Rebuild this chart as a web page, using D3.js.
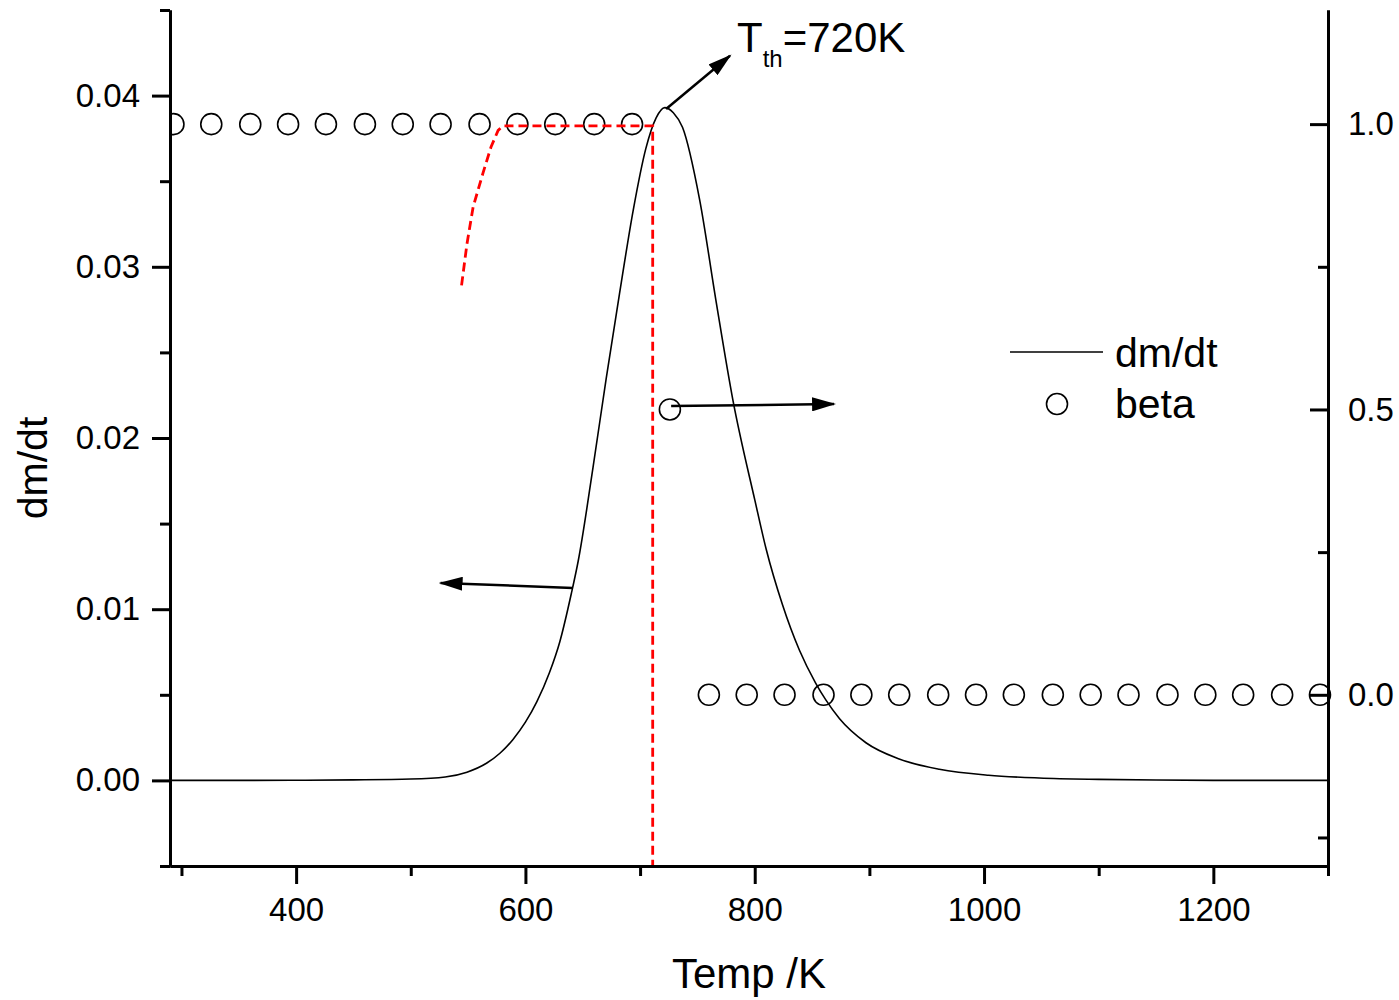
<!DOCTYPE html>
<html>
<head>
<meta charset="utf-8">
<script src="https://cdn.jsdelivr.net/npm/d3@7"></script>
<style>
  body { margin: 0; background: #fff; }
  svg text { font-family: "Liberation Sans", Arial, sans-serif; fill: #000; }
</style>
</head>
<body>
<div id="chart"></div>
<script>
// Plot area
var width = 1399, height = 1000;
var plotLeft = 170, plotRight = 1328, plotTop = 10, plotBottom = 866;

// dm/dt curve (Temp in K, dm/dt)
var curveTemp = [290, 350, 400, 450, 500, 530, 549, 566, 578, 589, 600, 610, 621, 630, 640, 646, 659, 670.5, 682, 694, 705, 714, 721.5, 729, 737, 752, 766, 781, 800, 810, 824, 839, 853, 862, 874, 897, 926, 961, 1004, 1048, 1100, 1150, 1200, 1300];
var curveDm = [0, 0, 0.00001, 0.00003, 0.00008, 0.0002, 0.00048, 0.001, 0.0016, 0.00238, 0.0034, 0.0046, 0.0063, 0.0081, 0.0109, 0.0128, 0.0183, 0.0235, 0.0284, 0.0333, 0.0369, 0.0387, 0.0393, 0.0390, 0.03815, 0.0339, 0.0281, 0.0222, 0.0164, 0.0135, 0.0103, 0.0076, 0.0057, 0.0047, 0.0036, 0.0022, 0.00125, 0.00065, 0.0003, 0.00014, 0.00006, 0.00002, 0, 0];

// beta points (Temp in K, beta)
var betaTemp = [293, 326, 360, 393, 426, 460, 493, 526, 560, 593, 626, 660, 693, 726, 760, 793, 826, 860, 893, 926, 960, 993, 1026, 1060, 1093, 1126, 1160, 1193, 1226, 1260, 1293];
var betaVal = [1, 1, 1, 1, 1, 1, 1, 1, 1, 1, 1, 1, 1, 0.5, 0, 0, 0, 0, 0, 0, 0, 0, 0, 0, 0, 0, 0, 0, 0, 0, 0];

// red dashed guide (Temp, beta)
var guideTemp = [544.3, 549, 554.4, 563.1, 570, 576.2, 580.5, 711, 711];
var guideBeta = [0.7175, 0.79, 0.855, 0.915, 0.96, 0.989, 0.997, 0.997, -0.3];

// ticks
var xMajor = [400, 600, 800, 1000, 1200];
var xMinor = [300, 500, 700, 900, 1100, 1300];
var yMajor = [0.00, 0.01, 0.02, 0.03, 0.04];
var yMinor = [-0.005, 0.005, 0.015, 0.025, 0.035, 0.045];
var y2Major = [0.0, 0.5, 1.0];
var y2Minor = [-0.25, 0.25, 0.75];

// arrows (Temp, dm/dt): [fromT, fromV, toT, toV]
var arrows = [
  [722.7, 0.03922, 778.4, 0.04233],
  [641.4, 0.01124, 526, 0.01153],
  [727.1, 0.02187, 869.2, 0.02198]
];

var svg = d3.select("#chart").append("svg")
  .attr("width", width)
  .attr("height", height);

var x = d3.scaleLinear().domain([290, 1300]).range([plotLeft, plotRight]);
var y = d3.scaleLinear().domain([-0.005, 0.045]).range([plotBottom, plotTop]);
var y2 = d3.scaleLinear().domain([-0.3, 1.2]).range([plotBottom, plotTop]);

var defs = svg.append("defs");
defs.append("clipPath").attr("id", "plot")
  .append("rect")
  .attr("x", plotLeft).attr("y", plotTop)
  .attr("width", plotRight - plotLeft + 4).attr("height", plotBottom - plotTop);

defs.append("marker")
  .attr("id", "head")
  .attr("markerUnits", "userSpaceOnUse")
  .attr("markerWidth", 24).attr("markerHeight", 14)
  .attr("refX", 22).attr("refY", 7)
  .attr("orient", "auto")
  .append("path")
  .attr("d", "M0,0 L24,7 L0,14 Z")
  .attr("fill", "#000");

// dm/dt line
var line = d3.line()
  .x(function(d, i) { return x(curveTemp[i]); })
  .y(function(d) { return y(d); })
  .curve(d3.curveMonotoneX);

svg.append("path")
  .datum(curveDm)
  .attr("d", line)
  .attr("fill", "none")
  .attr("stroke", "#000")
  .attr("stroke-width", 1.6);

// beta circles
svg.append("g")
  .attr("clip-path", "url(#plot)")
  .selectAll("circle")
  .data(betaVal)
  .enter().append("circle")
  .attr("cx", function(d, i) { return x(betaTemp[i]); })
  .attr("cy", function(d) { return y2(d); })
  .attr("r", 10.5)
  .attr("fill", "none")
  .attr("stroke", "#000")
  .attr("stroke-width", 1.6);

// red dashed guide
svg.append("path")
  .datum(guideBeta)
  .attr("d", d3.line()
    .x(function(d, i) { return x(guideTemp[i]); })
    .y(function(d) { return y2(d); }))
  .attr("fill", "none")
  .attr("stroke", "#ff0000")
  .attr("stroke-width", 2.8)
  .attr("stroke-dasharray", "9,5");

// arrows
svg.append("g")
  .selectAll("line")
  .data(arrows)
  .enter().append("line")
  .attr("x1", function(d) { return x(d[0]); })
  .attr("y1", function(d) { return y(d[1]); })
  .attr("x2", function(d) { return x(d[2]); })
  .attr("y2", function(d) { return y(d[3]); })
  .attr("stroke", "#000")
  .attr("stroke-width", 2.5)
  .attr("marker-end", "url(#head)");

// axes
function style(g, size) {
  g.select(".domain").attr("stroke-width", 3);
  g.selectAll(".tick line").attr("stroke-width", 3);
  g.selectAll("text").style("font-size", size + "px")
    .style("font-family", "'Liberation Sans', Arial, sans-serif");
}

svg.append("g")
  .attr("transform", "translate(0," + plotBottom + ")")
  .call(d3.axisBottom(x).tickValues(xMinor).tickSize(10).tickSizeOuter(0).tickFormat(""))
  .call(style, 33);
svg.append("g")
  .attr("transform", "translate(0," + plotBottom + ")")
  .call(d3.axisBottom(x).tickValues(xMajor).tickSize(18).tickSizeOuter(0).tickPadding(14).tickFormat(d3.format("d")))
  .call(style, 33);

svg.append("g")
  .attr("transform", "translate(" + plotLeft + ",0)")
  .call(d3.axisLeft(y).tickValues(yMinor).tickSize(10).tickSizeOuter(0).tickFormat(""))
  .call(style, 33);
svg.append("g")
  .attr("transform", "translate(" + plotLeft + ",0)")
  .call(d3.axisLeft(y).tickValues(yMajor).tickSize(18).tickSizeOuter(0).tickPadding(12).tickFormat(d3.format(".2f")))
  .call(style, 33);

svg.append("g")
  .attr("transform", "translate(" + plotRight + ",0)")
  .call(d3.axisRight(y2).tickValues(y2Minor).tickSize(-10).tickSizeOuter(0).tickFormat(""))
  .call(style, 33);
svg.append("g")
  .attr("transform", "translate(" + plotRight + ",0)")
  .call(d3.axisRight(y2).tickValues(y2Major).tickSize(-18).tickSizeOuter(0).tickPadding(20).tickFormat(d3.format(".1f")))
  .call(style, 33);

// axis titles
svg.append("text")
  .attr("x", 749)
  .attr("y", 988)
  .attr("text-anchor", "middle")
  .style("font-size", "42px")
  .text("Temp /K");

svg.append("text")
  .attr("transform", "translate(47," + ((plotTop + plotBottom) / 2 + 30) + ") rotate(-90)")
  .attr("text-anchor", "middle")
  .style("font-size", "41px")
  .text("dm/dt");

// annotation
var ann = svg.append("text")
  .attr("x", 737)
  .attr("y", 52)
  .style("font-size", "42px");
ann.append("tspan").text("T");
ann.append("tspan").attr("dy", 15).style("font-size", "24px").text("th");
ann.append("tspan").attr("dy", -15).text("=720K");

// legend
svg.append("line")
  .attr("x1", 1010).attr("x2", 1103)
  .attr("y1", 352).attr("y2", 352)
  .attr("stroke", "#000").attr("stroke-width", 1.6);
svg.append("text")
  .attr("x", 1115).attr("y", 367)
  .style("font-size", "41px")
  .text("dm/dt");
svg.append("circle")
  .attr("cx", 1057).attr("cy", 404).attr("r", 10.5)
  .attr("fill", "none").attr("stroke", "#000").attr("stroke-width", 1.6);
svg.append("text")
  .attr("x", 1115).attr("y", 418)
  .style("font-size", "41px")
  .text("beta");
</script>
</body>
</html>
